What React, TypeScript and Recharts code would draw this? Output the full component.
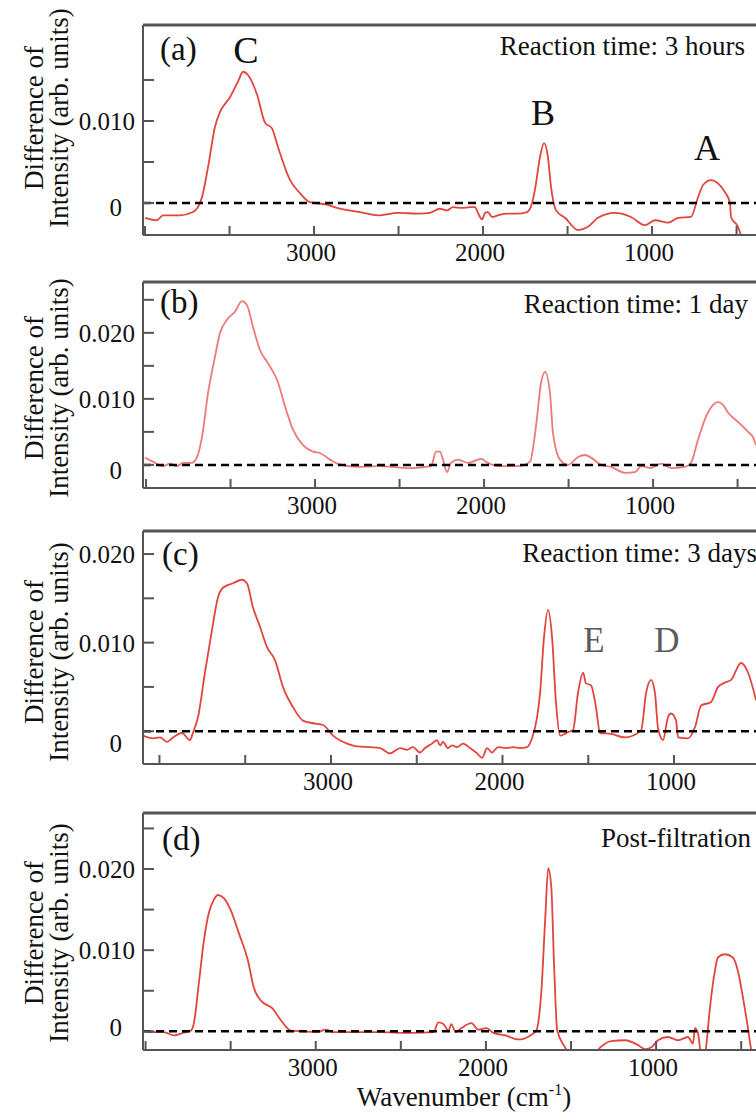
import React from 'react';
import { LineChart, Line, XAxis, YAxis, ReferenceLine } from 'recharts';

// (a) Reaction time: 3 hours
const wavenumbersA = [4000, 3929, 3894, 3793, 3716, 3687, 3663, 3627, 3586, 3556, 3497, 3450, 3420, 3391, 3337, 3290, 3249, 3213, 3142, 3083, 3024, 2923, 2864, 2728, 2621, 2503, 2373, 2314, 2255, 2213, 2178, 2125, 2077, 2048, 2030, 2006, 1988, 1971, 1947, 1912, 1858, 1799, 1740, 1710, 1693, 1663, 1639, 1616, 1598, 1568, 1515, 1438, 1379, 1320, 1219, 1125, 1042, 983, 905, 846, 770, 728, 698, 651, 610, 568, 539, 533, 492, 474, 450];
const intensityA = [-0.0018, -0.0021, -0.0015, -0.0015, -0.0011, -0.0005, 0.0007, 0.0044, 0.0093, 0.0111, 0.0129, 0.0148, 0.016, 0.0156, 0.0132, 0.0098, 0.0091, 0.0068, 0.0028, 0.0012, 0.0001, -0.0002, -0.0006, -0.0011, -0.0015, -0.0012, -0.0013, -0.0012, -0.0007, -0.0009, -0.0005, -0.0006, -0.0005, -0.0005, -0.0012, -0.002, -0.0012, -0.0011, -0.0017, -0.0015, -0.0013, -0.0013, -0.0011, 0.0, 0.0016, 0.0056, 0.0073, 0.0056, 0.002, -0.0009, -0.0018, -0.0033, -0.0029, -0.0018, -0.0012, -0.0017, -0.0027, -0.0021, -0.0024, -0.0018, -0.0017, 0.0007, 0.0022, 0.0028, 0.0024, 0.0013, 0.0, -0.0017, -0.0029, -0.0039, -0.005];

// (b) Reaction time: 1 day
const wavenumbersB = [4006, 3959, 3900, 3858, 3817, 3781, 3728, 3698, 3669, 3633, 3592, 3562, 3521, 3474, 3432, 3403, 3367, 3326, 3284, 3225, 3166, 3130, 3071, 3012, 2971, 2911, 2870, 2752, 2627, 2432, 2314, 2284, 2261, 2243, 2219, 2196, 2154, 2095, 2036, 2018, 1977, 1918, 1799, 1728, 1693, 1663, 1639, 1610, 1592, 1551, 1503, 1444, 1403, 1367, 1308, 1249, 1166, 1107, 1071, 1012, 953, 894, 811, 776, 734, 687, 645, 615, 586, 556, 497, 438, 409, 391];
const intensityB = [0.0011, 0.0005, -0.0002, 0.0002, -0.0002, 0.0003, 0.0003, 0.0012, 0.0042, 0.0109, 0.0164, 0.02, 0.022, 0.0232, 0.0248, 0.0242, 0.0209, 0.0174, 0.0156, 0.0129, 0.0079, 0.0053, 0.003, 0.002, 0.0018, 0.0008, 0.0002, -0.0003, -0.0002, -0.0005, -0.0002, 0.002, 0.002, 0.0008, -0.0011, 0.0003, 0.0008, 0.0003, 0.0008, 0.0009, 0.0003, -0.0002, -0.0002, 0.0005, 0.0058, 0.0124, 0.0141, 0.0109, 0.0048, 0.0008, 0.0, 0.0012, 0.0015, 0.0011, 0.0, -0.0003, -0.0012, -0.0011, -0.0002, -0.0005, 0.0002, -0.0005, -0.0003, 0.0003, 0.0038, 0.0073, 0.0091, 0.0095, 0.0091, 0.0079, 0.0065, 0.005, 0.0042, 0.003];

// (c) Reaction time: 3 days
const wavenumbersC = [4096, 4038, 3997, 3956, 3921, 3869, 3822, 3805, 3775, 3735, 3694, 3659, 3630, 3571, 3519, 3490, 3455, 3414, 3373, 3326, 3280, 3221, 3163, 3105, 3046, 2988, 2906, 2848, 2772, 2714, 2656, 2597, 2557, 2522, 2481, 2452, 2411, 2382, 2364, 2347, 2318, 2294, 2265, 2230, 2189, 2148, 2119, 2090, 2061, 2026, 1974, 1939, 1898, 1857, 1828, 1799, 1781, 1758, 1734, 1711, 1688, 1664, 1618, 1589, 1560, 1530, 1513, 1484, 1455, 1431, 1367, 1286, 1192, 1163, 1134, 1111, 1093, 1064, 1035, 1017, 988, 976, 918, 877, 842, 784, 743, 702, 667, 609, 568, 522];
const intensityC = [-0.0005, -0.0008, -0.0007, -0.0012, -0.0007, -0.0002, -0.001, -0.0002, 0.0016, 0.0066, 0.0114, 0.0151, 0.0162, 0.0167, 0.0171, 0.0167, 0.014, 0.0118, 0.0095, 0.008, 0.005, 0.0027, 0.0012, 0.0009, 0.0007, -0.0005, -0.0014, -0.0017, -0.0018, -0.0019, -0.0025, -0.0019, -0.0021, -0.0018, -0.0024, -0.0019, -0.0014, -0.001, -0.0016, -0.0012, -0.0019, -0.0016, -0.0018, -0.0014, -0.0019, -0.0025, -0.003, -0.0019, -0.0024, -0.0018, -0.0019, -0.0018, -0.0019, -0.0018, -0.0008, 0.0015, 0.0043, 0.0106, 0.0137, 0.0106, 0.0032, -0.0005, -0.0001, 0.0001, 0.0043, 0.0066, 0.0054, 0.0052, 0.0027, -0.0002, -0.0003, -0.0007, 0.0001, 0.0043, 0.0058, 0.0043, 0.0003, -0.001, 0.0016, 0.002, 0.0012, -0.0007, -0.0008, 0.0005, 0.0029, 0.0033, 0.005, 0.0055, 0.0058, 0.0077, 0.0066, 0.0035];

// (d) Post-filtration
const wavenumbersD = [4009, 3950, 3892, 3833, 3780, 3733, 3716, 3687, 3657, 3628, 3599, 3575, 3540, 3499, 3452, 3399, 3364, 3323, 3253, 3206, 3147, 3088, 2989, 2942, 2895, 2631, 2437, 2308, 2279, 2250, 2220, 2203, 2179, 2144, 2085, 2044, 1997, 1956, 1886, 1810, 1739, 1704, 1675, 1651, 1634, 1616, 1599, 1581, 1534, 1428, 1329, 1264, 1182, 1106, 1065, 1030, 989, 930, 871, 813, 783, 772, 754, 742, 725, 707, 683, 654, 637, 596, 549, 520, 490, 461, 443, 413];
const intensityD = [0.0001, -0.0001, -0.0001, -0.0005, -0.0002, 0.0001, 0.001, 0.0059, 0.0112, 0.0146, 0.0162, 0.0168, 0.0164, 0.0149, 0.0121, 0.0088, 0.0054, 0.0038, 0.0028, 0.0014, 0.0001, 0.0, -0.0001, 0.0002, -0.0001, -0.0001, -0.0002, -0.0001, 0.0011, 0.0009, 0.0001, 0.0009, -0.0001, 0.0004, 0.001, 0.0002, 0.0004, -0.0002, -0.0005, -0.001, -0.0005, 0.0001, 0.0047, 0.0141, 0.0201, 0.0178, 0.0079, 0.0001, -0.002, -0.005, -0.002, -0.0012, -0.0011, -0.0017, -0.0022, -0.002, -0.0011, -0.0007, -0.0011, -0.0007, -0.0015, 0.0004, -0.0002, -0.0021, -0.0045, -0.0021, 0.003, 0.0075, 0.0091, 0.0095, 0.0091, 0.0075, 0.0042, 0.0005, -0.0021, -0.0045];

const xTicks = [4000, 3500, 3000, 2500, 2000, 1500, 1000, 500];
const xTickLabels = [3000, 2000, 1000];
const yTicksSmall = [0, 0.005, 0.01, 0.015];
const yTicksLarge = [0, 0.005, 0.01, 0.015, 0.02, 0.025];
const yTickLabels = [0, 0.01, 0.02];

const FONT = '"Liberation Serif", "Times New Roman", serif';
const FRAME = '#555';
const W = 756;
const PLOT_LEFT = 143;
const XAXIS_H = 35;

const toRows = (wn: number[], val: number[]) => wn.map((w, i) => ({ wn: w, val: val[i] }));

type Panel = {
  key: string;
  data: { wn: number; val: number }[];
  plotTop: number;
  plotBottom: number;
  xDomain: [number, number];
  yDomain: [number, number];
  yTicks: number[];
  color: string;
  zeroShift: number;
};

const panels: Panel[] = [
  { key: 'a', data: toRows(wavenumbersA, intensityA), plotTop: 25, plotBottom: 235, xDomain: [385, 4012], yDomain: [-0.0039, 0.0217], yTicks: yTicksSmall, color: '#e2453e', zeroShift: 4 },
  { key: 'b', data: toRows(wavenumbersB, intensityB), plotTop: 282, plotBottom: 488, xDomain: [391, 4018], yDomain: [-0.0035, 0.0277], yTicks: yTicksLarge, color: '#ee7a78', zeroShift: 5 },
  { key: 'c', data: toRows(wavenumbersC, intensityC), plotTop: 531, plotBottom: 764, xDomain: [522, 4096], yDomain: [-0.0037, 0.0226], yTicks: yTicksSmall.concat([0.02]), color: '#e2453e', zeroShift: 12 },
  { key: 'd', data: toRows(wavenumbersD, intensityD), plotTop: 813, plotBottom: 1050, xDomain: [413, 4015], yDomain: [-0.0023, 0.0269], yTicks: yTicksLarge, color: '#e2453e', zeroShift: -4 },
];

const isLabel = (v: number, list: number[]) => list.some((l) => Math.abs(l - v) < 1e-9);

const PanelChart = ({ p }: { p: Panel }) => {
  const chartTop = p.plotTop - 20;
  const height = p.plotBottom - chartTop + XAXIS_H;
  const ticksX = xTicks.filter((t) => t > p.xDomain[0] && t <= p.xDomain[1]);

  const XTick = (props: any) => {
    const { x, payload } = props;
    const yb = p.plotBottom - chartTop;
    return (
      <g>
        <line x1={x} x2={x} y1={yb} y2={yb - 9} stroke={FRAME} strokeWidth={2} />
        {isLabel(payload.value, xTickLabels) && (
          <text x={x - 3} y={yb + 26} textAnchor="middle" fontFamily={FONT} fontSize={25} fill="#111">
            {payload.value}
          </text>
        )}
      </g>
    );
  };

  const YTick = (props: any) => {
    const { y, payload } = props;
    const v = payload.value;
    const zero = Math.abs(v) < 1e-9;
    return (
      <g>
        <line x1={PLOT_LEFT} x2={PLOT_LEFT + 11} y1={y} y2={y} stroke={FRAME} strokeWidth={2} />
        {isLabel(v, yTickLabels) && (
          <text x={zero ? PLOT_LEFT - 21 : PLOT_LEFT - 8} y={y + 9 + (zero ? p.zeroShift : 0)} textAnchor="end" fontFamily={FONT} fontSize={25} fill="#111">
            {zero ? '0' : v.toFixed(3)}
          </text>
        )}
      </g>
    );
  };

  return (
    <div style={{ position: 'absolute', left: 0, top: chartTop }}>
      <LineChart width={W} height={height} data={p.data} margin={{ top: 20, right: 0, bottom: 0, left: 0 }}>
        <XAxis
          dataKey="wn"
          type="number"
          domain={p.xDomain}
          reversed
          allowDataOverflow
          ticks={ticksX}
          interval={0}
          tickSize={0}
          tickMargin={0}
          tickLine={false}
          tick={XTick}
          height={XAXIS_H}
          axisLine={{ stroke: FRAME, strokeWidth: 2 }}
        />
        <YAxis
          type="number"
          domain={p.yDomain}
          allowDataOverflow
          ticks={p.yTicks}
          interval={0}
          tickSize={0}
          tickMargin={0}
          tickLine={false}
          tick={YTick}
          width={PLOT_LEFT}
          axisLine={{ stroke: FRAME, strokeWidth: 2 }}
        />
        <ReferenceLine y={p.yDomain[1]} stroke={FRAME} strokeWidth={3} />
        <Line type="monotone" dataKey="val" stroke={p.color} strokeWidth={1.8} dot={false} isAnimationActive={false} />
        <ReferenceLine y={0} stroke="#000" strokeWidth={2.5} strokeDasharray="8 5" />
      </LineChart>
    </div>
  );
};

const YLabel = ({ cy }: { cy: number }) => (
  <>
    <text transform={`translate(43 ${cy}) rotate(-90)`} textAnchor="middle" fontFamily={FONT} fontSize={27} fill="#111">
      Difference of
    </text>
    <text transform={`translate(68 ${cy}) rotate(-90)`} textAnchor="middle" fontFamily={FONT} fontSize={27} fill="#111">
      Intensity (arb. units)
    </text>
  </>
);

const App = () => {
  const txt = { fontFamily: FONT, fill: '#111' } as const;
  return (
    <div style={{ position: 'absolute', left: 0, top: 0, width: W, height: 1113, background: '#fff', overflow: 'hidden' }}>
      {panels.map((p) => (
        <PanelChart key={p.key} p={p} />
      ))}
      <svg width={W} height={1113} style={{ position: 'absolute', left: 0, top: 0, pointerEvents: 'none' }}>
        <YLabel cy={118} />
        <YLabel cy={388} />
        <YLabel cy={652} />
        <YLabel cy={933} />

        <text x={160} y={60} fontSize={33} {...txt}>(a)</text>
        <text x={246} y={63} fontSize={38} textAnchor="middle" {...txt}>C</text>
        <text x={543} y={125} fontSize={36} textAnchor="middle" {...txt}>B</text>
        <text x={707} y={160} fontSize={36} textAnchor="middle" {...txt}>A</text>
        <text x={745} y={55} fontSize={27} textAnchor="end" {...txt}>Reaction time: 3 hours</text>

        <text x={160} y={313} fontSize={33} {...txt}>(b)</text>
        <text x={748} y={313} fontSize={27} textAnchor="end" {...txt}>Reaction time: 1 day</text>

        <text x={162} y={565} fontSize={33} {...txt}>(c)</text>
        <text x={757} y={562} fontSize={27} textAnchor="end" {...txt}>Reaction time: 3 days</text>
        <text x={594} y={652} fontSize={35} textAnchor="middle" fontFamily={FONT} fill="#5c5c5c">E</text>
        <text x={667} y={652} fontSize={35} textAnchor="middle" fontFamily={FONT} fill="#5c5c5c">D</text>

        <text x={162} y={850} fontSize={33} {...txt}>(d)</text>
        <text x={751} y={847} fontSize={27} textAnchor="end" {...txt}>Post-filtration</text>

        <text x={464} y={1106} fontSize={27} textAnchor="middle" {...txt}>
          Wavenumber (cm<tspan dy={-11} fontSize={16}>-1</tspan><tspan dy={11}>)</tspan>
        </text>
      </svg>
    </div>
  );
};

export default App;
